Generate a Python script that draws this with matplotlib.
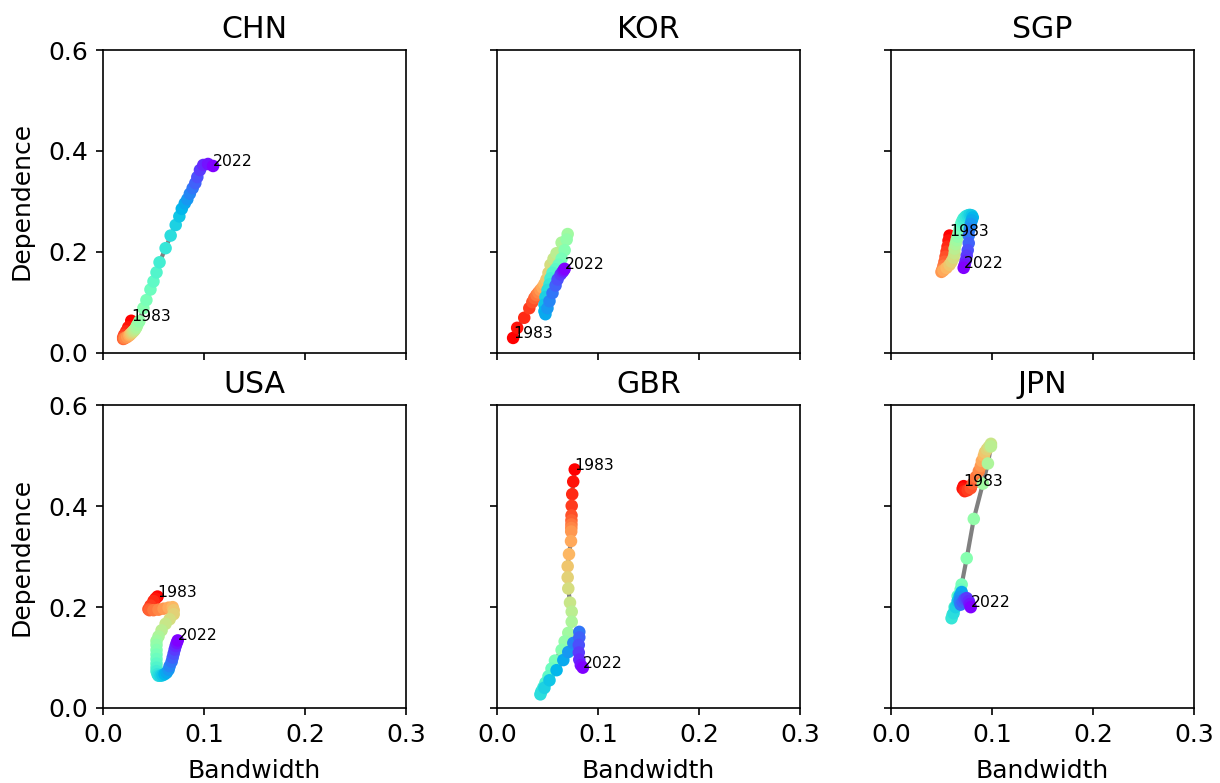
import numpy as np
import matplotlib
matplotlib.use("Agg")
from matplotlib import pyplot as plt

years = np.arange(1983, 2023)
countries = ["CHN", "KOR", "SGP", "USA", "GBR", "JPN"]

chn_bw = [0.028, 0.025, 0.023, 0.021, 0.020, 0.020, 0.021, 0.022, 0.024, 0.026,
          0.027, 0.028, 0.029, 0.030, 0.031, 0.032, 0.033, 0.034, 0.036, 0.040,
          0.043, 0.047, 0.050, 0.053, 0.056, 0.062, 0.067, 0.072, 0.0756, 0.078,
          0.081, 0.0835, 0.086, 0.0888, 0.0914, 0.0934, 0.096, 0.0993, 0.104, 0.109]
chn_dep = [0.063, 0.050, 0.042, 0.035, 0.030, 0.027, 0.028, 0.029, 0.031, 0.034,
           0.036, 0.038, 0.040, 0.042, 0.044, 0.047, 0.050, 0.055, 0.062, 0.088,
           0.104, 0.125, 0.141, 0.159, 0.179, 0.207, 0.232, 0.253, 0.270, 0.285,
           0.296, 0.304, 0.315, 0.326, 0.336, 0.348, 0.362, 0.372, 0.374, 0.370]

kor_bw = [0.016, 0.020, 0.027, 0.032, 0.035, 0.037, 0.039, 0.041, 0.043, 0.045,
          0.047, 0.049, 0.051, 0.053, 0.056, 0.059, 0.064, 0.070, 0.069, 0.067,
          0.064, 0.061, 0.058, 0.055, 0.053, 0.052, 0.050, 0.048, 0.047, 0.047,
          0.048, 0.050, 0.052, 0.055, 0.058, 0.060, 0.063, 0.065, 0.066, 0.067]
kor_dep = [0.029, 0.049, 0.069, 0.088, 0.100, 0.108, 0.114, 0.119, 0.124, 0.129,
           0.136, 0.145, 0.158, 0.174, 0.186, 0.197, 0.218, 0.235, 0.224, 0.203,
           0.186, 0.174, 0.165, 0.158, 0.147, 0.135, 0.124, 0.110, 0.095, 0.082,
           0.076, 0.088, 0.102, 0.118, 0.133, 0.145, 0.155, 0.160, 0.163, 0.166]

sgp_bw = [0.058, 0.057, 0.056, 0.055, 0.054, 0.053, 0.052, 0.051, 0.050, 0.052,
          0.055, 0.058, 0.060, 0.062, 0.063, 0.063, 0.064, 0.065, 0.066, 0.067,
          0.068, 0.069, 0.070, 0.071, 0.072, 0.074, 0.076, 0.078, 0.080, 0.081,
          0.080, 0.079, 0.078, 0.077, 0.077, 0.076, 0.075, 0.074, 0.073, 0.072]
sgp_dep = [0.232, 0.222, 0.210, 0.200, 0.190, 0.180, 0.172, 0.165, 0.160, 0.163,
           0.168, 0.174, 0.180, 0.188, 0.197, 0.206, 0.215, 0.223, 0.230, 0.237,
           0.245, 0.252, 0.258, 0.262, 0.266, 0.270, 0.272, 0.273, 0.272, 0.268,
           0.262, 0.255, 0.245, 0.232, 0.217, 0.203, 0.192, 0.182, 0.174, 0.168]

usa_bw = [0.054, 0.052, 0.050, 0.047, 0.045, 0.046, 0.050, 0.055, 0.060, 0.065,
          0.069, 0.070, 0.070, 0.066, 0.062, 0.058, 0.055, 0.053, 0.053, 0.053,
          0.053, 0.053, 0.053, 0.053, 0.053, 0.054, 0.055, 0.057, 0.059, 0.061,
          0.063, 0.065, 0.066, 0.068, 0.069, 0.070, 0.071, 0.072, 0.073, 0.074]
usa_dep = [0.221, 0.217, 0.212, 0.203, 0.196, 0.194, 0.194, 0.195, 0.197, 0.199,
           0.200, 0.194, 0.186, 0.176, 0.167, 0.154, 0.142, 0.133, 0.125, 0.115,
           0.106, 0.097, 0.088, 0.080, 0.073, 0.067, 0.064, 0.064, 0.065, 0.067,
           0.070, 0.076, 0.083, 0.092, 0.100, 0.108, 0.116, 0.123, 0.129, 0.134]

gbr_bw = [0.077, 0.0755, 0.0745, 0.074, 0.0738, 0.0737, 0.0737, 0.0736, 0.0735, 0.0733,
          0.0713, 0.070, 0.070, 0.0706, 0.0723, 0.074, 0.074, 0.0706, 0.067, 0.064,
          0.0574, 0.054, 0.051, 0.048, 0.046, 0.044, 0.043, 0.047, 0.052, 0.059,
          0.0657, 0.0706, 0.0756, 0.0815, 0.0815, 0.081, 0.081, 0.0815, 0.083, 0.085]
gbr_dep = [0.473, 0.449, 0.424, 0.401, 0.382, 0.372, 0.364, 0.357, 0.350, 0.331,
           0.305, 0.281, 0.259, 0.237, 0.209, 0.191, 0.171, 0.149, 0.132, 0.115,
           0.094, 0.078, 0.063, 0.050, 0.041, 0.033, 0.027, 0.040, 0.055, 0.075,
           0.095, 0.111, 0.129, 0.151, 0.140, 0.125, 0.110, 0.096, 0.085, 0.080]

jpn_bw = [0.072, 0.071, 0.073, 0.076, 0.079, 0.081, 0.084, 0.087, 0.089, 0.090,
          0.092, 0.093, 0.095, 0.097, 0.099, 0.099, 0.096, 0.091, 0.082, 0.075,
          0.070, 0.069, 0.066, 0.063, 0.061, 0.060, 0.062, 0.064, 0.066, 0.068,
          0.070, 0.069, 0.068, 0.069, 0.071, 0.073, 0.075, 0.077, 0.078, 0.079]
jpn_dep = [0.440, 0.435, 0.430, 0.432, 0.436, 0.445, 0.458, 0.470, 0.480, 0.490,
           0.500, 0.507, 0.513, 0.518, 0.524, 0.519, 0.485, 0.445, 0.375, 0.297,
           0.245, 0.235, 0.222, 0.200, 0.185, 0.178, 0.188, 0.200, 0.212, 0.222,
           0.230, 0.220, 0.212, 0.205, 0.210, 0.216, 0.218, 0.212, 0.206, 0.200]

bw = [chn_bw, kor_bw, sgp_bw, usa_bw, gbr_bw, jpn_bw]
dep = [chn_dep, kor_dep, sgp_dep, usa_dep, gbr_dep, jpn_dep]

plt.rcParams["font.size"] = 12

fig, axes = plt.subplots(2, 3, figsize=(1220/150, 783/150), dpi=150, sharex=True, sharey=True)
plt.subplots_adjust(left=0.0844, right=0.9787, bottom=0.0958, top=0.9361, wspace=0.30, hspace=0.175)

for k, ax in enumerate(axes.flat):
    x = np.array(bw[k])
    y = np.array(dep[k])
    ax.plot(x, y, color="gray", lw=2, zorder=1)
    ax.scatter(x, y, c=years, cmap="rainbow_r", s=25, zorder=2)
    ax.text(x[0], y[0], str(years[0]), fontsize=7.5)
    ax.text(x[-1], y[-1], str(years[-1]), fontsize=7.5)
    ax.set_title(countries[k])
    ax.set_xlim(0, 0.3)
    ax.set_ylim(0, 0.6)
    ax.set_xticks([0.0, 0.1, 0.2, 0.3])
    ax.set_yticks([0.0, 0.2, 0.4, 0.6])
    if k % 3 == 0:
        ax.set_ylabel("Dependence", labelpad=7)
    if k >= 3:
        ax.set_xlabel("Bandwidth", labelpad=6)

fig.savefig("out.png", dpi=150)
